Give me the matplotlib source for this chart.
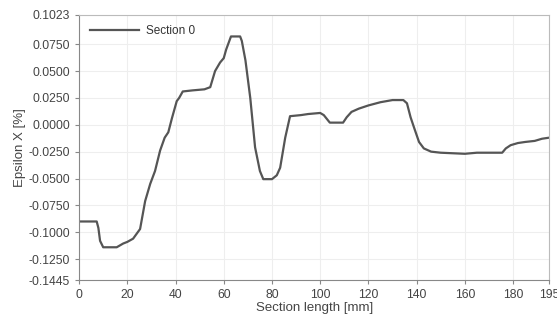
import matplotlib
matplotlib.use("Agg")
import matplotlib.pyplot as plt

plt.rcParams['font.family'] = ['Liberation Sans', 'DejaVu Sans']

x_mm = [0, 7.3, 8, 8.7, 10, 13, 15.6, 18.3, 20, 22.4, 25.3, 27.4, 29.5, 31.5, 33.6, 35.5, 37, 38.5,
        40.5, 41.5, 43, 47, 52, 54.4, 56.4, 58.5, 60, 61, 63, 66.8, 67.5, 69, 71, 73, 75, 76.4,
        80, 82, 83.4, 85.5, 87.5, 92, 95, 100, 101.5, 104, 109.5, 111, 113, 116, 120, 125, 130,
        134.5, 136, 137.5, 139, 141, 143, 146, 150, 160, 165, 175.5, 177, 179, 182, 185, 189,
        192, 195]
epsilon = [-0.090, -0.090, -0.096, -0.108, -0.114, -0.114, -0.114, -0.1105, -0.109, -0.106,
           -0.097, -0.071, -0.055, -0.043, -0.024, -0.012, -0.007, 0.006,
           0.022, 0.025, 0.031, 0.032, 0.033, 0.035, 0.050, 0.058, 0.062, 0.070, 0.0822,
           0.0822, 0.078, 0.060, 0.025, -0.021, -0.043, -0.0506,
           -0.0506, -0.047, -0.040, -0.012, 0.008, 0.009, 0.010, 0.011, 0.009, 0.002, 0.002,
           0.007, 0.012, 0.015, 0.018, 0.021, 0.023,
           0.023, 0.020, 0.007, -0.003, -0.016, -0.022, -0.025, -0.026, -0.027, -0.026, -0.026,
           -0.022, -0.019, -0.017, -0.016, -0.015, -0.013, -0.012]

y_ticks = [0.1023, 0.0750, 0.0500, 0.0250, 0.0000, -0.0250, -0.0500, -0.0750, -0.1000, -0.1250, -0.1445]
x_ticks = [0, 20, 40, 60, 80, 100, 120, 140, 160, 180, 195]

fig = plt.figure(figsize=(5.57, 3.23), dpi=100)
ax = fig.add_axes([0.142, 0.133, 0.844, 0.821])
ax.plot(x_mm, epsilon, color="#555555", lw=1.6, label="Section 0")
ax.set_xlim(0, 195)
ax.set_ylim(-0.1445, 0.1023)
ax.set_xticks(x_ticks)
ax.set_xticklabels([str(t) for t in x_ticks])
ax.set_yticks(y_ticks)
ax.set_yticklabels([f"{t:.4f}" for t in y_ticks])
ax.grid(True, color="#eeeeee", lw=0.8)
ax.set_axisbelow(True)
for s in ["top", "right"]:
    ax.spines[s].set_color("#bbbbbb")
for s in ["left", "bottom"]:
    ax.spines[s].set_color("#888888")
ax.tick_params(colors="#888888", labelcolor="#444444", labelsize=8.7, length=3)
ax.set_xlabel("Section length [mm]", fontsize=9.5, color="#444444", labelpad=1)
ax.set_ylabel("Epsilon X [%]", fontsize=9.5, color="#444444", labelpad=2)
leg = ax.legend(loc="upper left", frameon=False, fontsize=8.5, handlelength=4.2,
                borderaxespad=0.5, handletextpad=0.6)
for t in leg.get_texts():
    t.set_color("#333333")
fig.savefig("out.png", dpi=100)
